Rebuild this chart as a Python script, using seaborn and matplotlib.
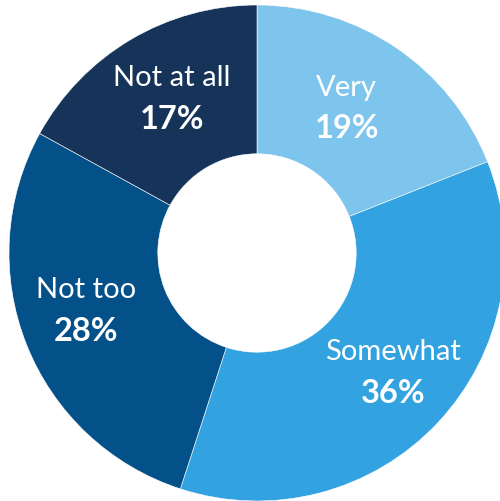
import numpy as np
import matplotlib
matplotlib.use("Agg")
import matplotlib.pyplot as plt
import seaborn as sns

categories = ["Very", "Somewhat", "Not too", "Not at all"]
values = [19, 36, 28, 17]
colors = ["#7DC5EC", "#33A2E0", "#045189", "#163459"]

# label layout (radius and angular nudge from wedge middle, degrees)
label_radius = [0.70, 0.72, 0.724, 0.724]
label_nudge = [3.1, 2.9, -4.1, -2.3]

sns.set_style("white")
plt.rcParams["font.family"] = ["Lato", "DejaVu Sans"]

fig = plt.figure(figsize=(5.0, 5.02), dpi=100)
ax = fig.add_axes([0, 0, 1, 1])
ax.axis("off")

wedges, _ = ax.pie(values, colors=colors, startangle=90, counterclock=False,
                   radius=1.0, wedgeprops=dict(width=0.6, edgecolor="white", linewidth=0.4))

total = sum(values)
cum = 0
for cat, v, r, nd in zip(categories, values, label_radius, label_nudge):
    mid = 90 - (cum + v / 2) / total * 360 + nd
    cum += v
    x = r * np.cos(np.radians(mid))
    y = r * np.sin(np.radians(mid)) - 0.012
    ax.text(x, y + 0.083, cat, ha="center", va="center", color="white", fontsize=21)
    ax.text(x, y - 0.083, f"{v}%", ha="center", va="center", color="white",
            fontsize=23.5, fontweight="bold")

ax.set_xlim(-257 / 248, 243 / 248)
ax.set_ylim(-248 / 248, 254 / 248)
ax.set_aspect("equal", adjustable="box")

fig.savefig("out.png", dpi=100)
